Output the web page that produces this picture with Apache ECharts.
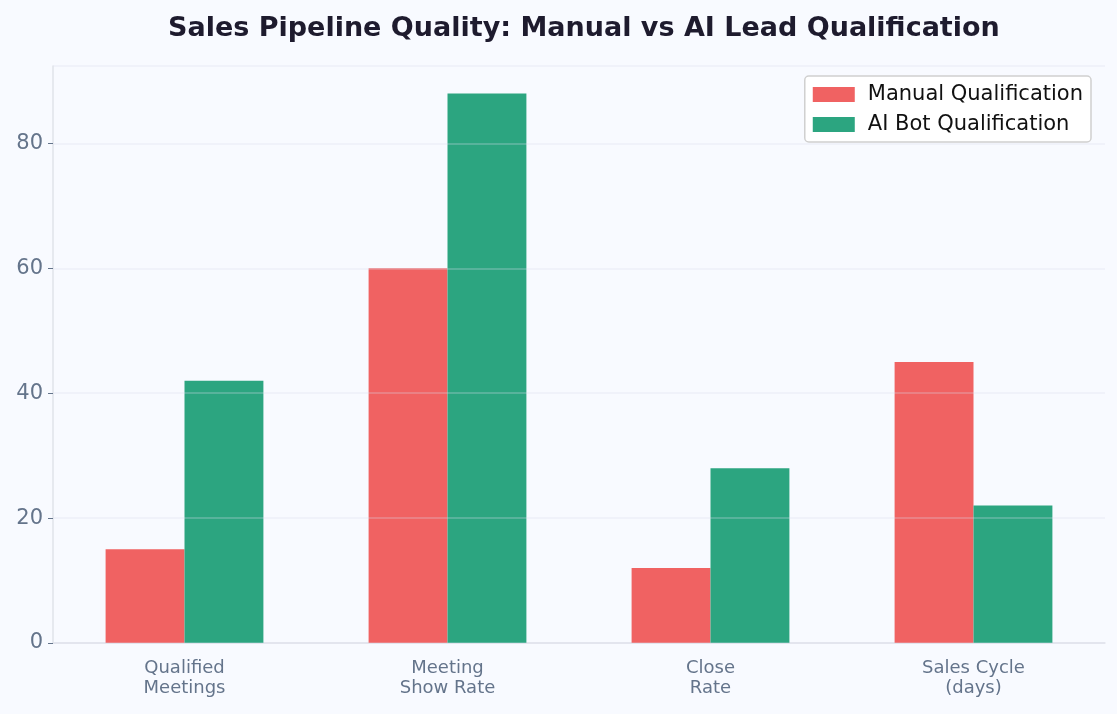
<!DOCTYPE html>
<html>
<head>
<meta charset="utf-8">
<script src="https://cdn.jsdelivr.net/npm/echarts@6/dist/echarts.min.js"></script>
<style>
  html, body { margin: 0; padding: 0; background: #f8faff; }
  #main { width: 1117px; height: 714px; }
</style>
</head>
<body>
<div id="main"></div>
<script>
// chart data
const categories = ['Qualified\nMeetings', 'Meeting\nShow Rate', 'Close\nRate', 'Sales Cycle\n(days)']
const manualValues = [15, 60, 12, 45]
const aiValues = [42, 88, 28, 22]
const seriesNames = ['Manual Qualification', 'AI Bot Qualification']

const chart = echarts.init(document.getElementById('main'))

const option = {
  backgroundColor: '#f8faff',
  animation: false,
  title: {
    text: 'Sales Pipeline Quality: Manual vs AI Lead Qualification',
    left: 163,
    top: 10,
    textStyle: {
      fontFamily: 'DejaVu Sans',
      fontWeight: 'bold',
      fontSize: 27,
      color: '#1e1b2e'
    }
  },
  legend: {
    right: 26,
    top: 76,
    orient: 'vertical',
    itemWidth: 42,
    itemHeight: 15,
    itemGap: 9,
    padding: [8, 8, 7, 8],
    borderColor: '#d0d0d0',
    borderWidth: 1.5,
    borderRadius: 4,
    backgroundColor: '#ffffff',
    icon: 'rect',
    textStyle: {
      fontFamily: 'DejaVu Sans',
      fontSize: 21,
      color: '#111111',
      padding: [0, 0, 0, 8]
    },
    data: seriesNames
  },
  grid: {
    left: 53,
    right: 12,
    top: 66,
    bottom: 71
  },
  xAxis: {
    type: 'category',
    data: categories,
    axisLine: { lineStyle: { color: '#e1e3ea', width: 1.5 } },
    axisTick: { alignWithLabel: true, length: 5, lineStyle: { color: '#64748b' } },
    axisLabel: {
      fontFamily: 'DejaVu Sans',
      fontSize: 18,
      color: '#64748b',
      lineHeight: 20,
      margin: 15
    }
  },
  yAxis: {
    type: 'value',
    min: 0,
    max: 92.4,
    interval: 20,
    z: 3,
    axisLine: { show: true, lineStyle: { color: '#e1e3ea', width: 1.5 } },
    axisTick: { show: true, length: 5, lineStyle: { color: '#64748b' } },
    axisLabel: {
      fontFamily: 'DejaVu Sans',
      fontSize: 21,
      color: '#64748b',
      margin: 10,
      showMaxLabel: false
    },
    splitLine: { lineStyle: { color: 'rgba(215,222,235,0.35)', width: 1.5 } }
  },
  series: [
    {
      name: seriesNames[0],
      type: 'bar',
      data: manualValues,
      barGap: '0%',
      barCategoryGap: '40%',
      itemStyle: { color: '#f06262' }
    },
    {
      name: seriesNames[1],
      type: 'bar',
      data: aiValues,
      barGap: '0%',
      barCategoryGap: '40%',
      itemStyle: { color: '#2ca580' }
    }
  ]
}

chart.setOption(option)
</script>
</body>
</html>
